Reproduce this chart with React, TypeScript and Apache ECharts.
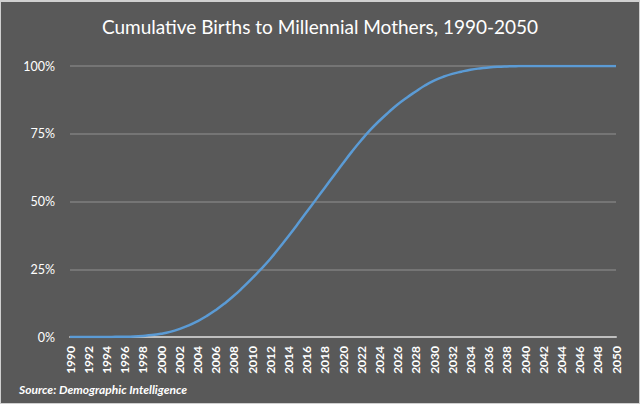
import React, { useEffect, useRef } from "react";
import * as echarts from "echarts";

const years: string[] = [];
for (let y = 1990; y <= 2050; y++) years.push(String(y));

const cumulativeShare: number[] = [
  0, 0, 0, 0, 0, 0.05, 0.1, 0.2, 0.4, 0.7,
  1.2, 1.9, 2.9, 4.2, 5.8, 7.7, 9.9, 12.4, 15.2, 18.3,
  21.6, 25.1, 28.8, 32.9, 37.2, 41.6, 46.1, 50.6, 55.1, 59.6,
  64.1, 68.5, 72.6, 76.4, 79.8, 82.9, 85.8, 88.3, 90.6, 92.8,
  94.6, 96.0, 97.1, 97.9, 98.6, 99.1, 99.45, 99.7, 99.85, 99.95,
  100, 100, 100, 100, 100, 100, 100, 100, 100, 100,
  100,
];

const yTicks: number[] = [0, 25, 50, 75, 100];

const titleText = "Cumulative Births to Millennial Mothers, 1990-2050";
const sourceText = "Source: Demographic Intelligence";

export default function App() {
  const ref = useRef<HTMLDivElement>(null);
  useEffect(() => {
    if (!ref.current) return;
    const chart = echarts.init(ref.current, null, { renderer: "svg" });
    const font = "Lato, 'Open Sans', sans-serif";
    chart.setOption({
      animation: false,
      backgroundColor: "#595959",
      title: {
        text: titleText,
        left: "center",
        top: 12,
        textStyle: { color: "#ffffff", fontSize: 19, fontWeight: "normal", fontFamily: font },
      },
      grid: { left: 70, right: 24, top: 66, bottom: 67, containLabel: false },
      xAxis: {
        type: "category",
        data: years,
        boundaryGap: false,
        axisLine: { lineStyle: { color: "#bfbfbf", width: 2 } },
        axisTick: { show: false },
        axisLabel: {
          interval: 1,
          rotate: 90,
          color: "#ffffff",
          fontSize: 12,
          fontWeight: "bold",
          fontFamily: font,
          margin: 9,
        },
      },
      yAxis: {
        type: "value",
        min: yTicks[0],
        max: yTicks[yTicks.length - 1],
        interval: 25,
        axisLine: { show: false },
        axisTick: { show: false },
        splitLine: { lineStyle: { color: "#7f7f7f", width: 1.5 } },
        axisLabel: {
          formatter: "{value}%",
          color: "#ffffff",
          fontSize: 12.5,
          fontFamily: font,
          margin: 15,
        },
      },
      series: [
        {
          type: "line",
          data: cumulativeShare,
          smooth: true,
          showSymbol: false,
          lineStyle: { color: "#5b9bd5", width: 2.5 },
        },
      ],
      graphic: [
        {
          type: "text",
          left: 19,
          top: 383,
          style: {
            text: sourceText,
            fill: "#ffffff",
            font: "italic bold 12px " + font,
          },
        },
      ],
    });
    return () => chart.dispose();
  }, []);
  return (
    <div style={{ position: "fixed", left: 0, top: 0, width: 640, height: 404 }}>
      <div ref={ref} style={{ width: 640, height: 404 }} />
      <div
        style={{
          position: "absolute",
          left: 0,
          top: 0,
          width: 640,
          height: 404,
          boxSizing: "border-box",
          border: "1px solid #d0d0d0",
          borderTopWidth: 2,
          pointerEvents: "none",
        }}
      />
    </div>
  );
}
